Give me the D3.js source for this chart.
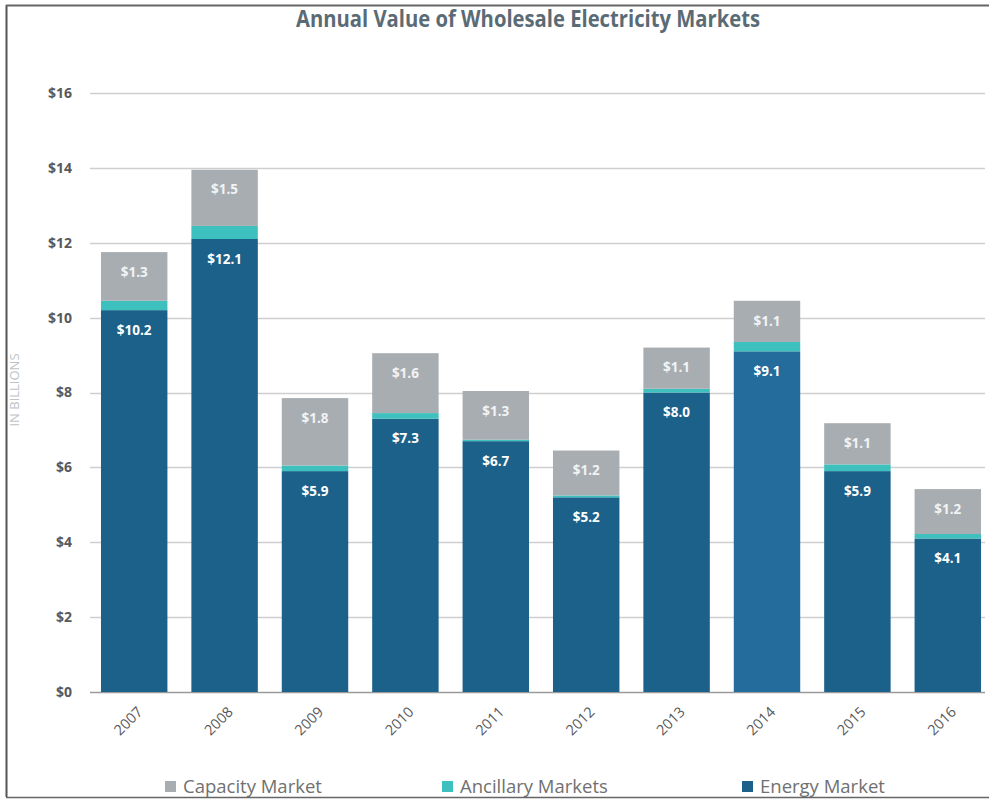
<!DOCTYPE html>
<html>
<head>
<meta charset="utf-8">
<script src="https://cdn.jsdelivr.net/npm/d3@7/dist/d3.min.js"></script>
<style>
  html, body { margin: 0; padding: 0; background: #fff; }
  svg { display: block; font-family: "Open Sans", "Noto Sans", sans-serif; }
</style>
</head>
<body>
<svg id="chart" width="989" height="799"></svg>
<script>
// Annual value of wholesale electricity markets, in billions of dollars
const years = ["2007", "2008", "2009", "2010", "2011", "2012", "2013", "2014", "2015", "2016"];
const energy    = [10.2, 12.1, 5.9, 7.3, 6.7, 5.2, 8.0, 9.1, 5.9, 4.1];
const ancillary = [0.25, 0.35, 0.15, 0.15, 0.04, 0.05, 0.1, 0.25, 0.18, 0.12];
const capacity  = [1.3, 1.5, 1.8, 1.6, 1.3, 1.2, 1.1, 1.1, 1.1, 1.2];
const yTicks = [0, 2, 4, 6, 8, 10, 12, 14, 16];
const seriesNames = ["Capacity Market", "Ancillary Markets", "Energy Market"];
const highlightYear = "2014";

const colors = {
  energy: "#1b6189",
  energyHighlight: "#236c9b",
  ancillary: "#3ec0bf",
  capacity: "#a8adb1"
};

const svg = d3.select("#chart");
const W = 989, H = 799;

// frame
svg.append("line").attr("x1", 6.5).attr("x2", 6.5).attr("y1", 5).attr("y2", 797)
  .attr("stroke", "#555").attr("stroke-width", 2);
svg.append("line").attr("x1", 6).attr("x2", W).attr("y1", 5.5).attr("y2", 5.5)
  .attr("stroke", "#666").attr("stroke-width", 2);

// title
svg.append("text")
  .attr("x", 528).attr("y", 27)
  .attr("text-anchor", "middle")
  .attr("font-size", 24).attr("font-weight", 700)
  .attr("fill", "#5b6b75")
  .attr("textLength", 464).attr("lengthAdjust", "spacingAndGlyphs")
  .text("Annual Value of Wholesale Electricity Markets");

const y = d3.scaleLinear().domain([0, 16]).range([692, 93]);
const x = d3.scaleBand().domain(years).range([89, 993])
  .paddingInner(0.265).paddingOuter(0.1325);

// gridlines
svg.append("g").selectAll("line").data(yTicks).join("line")
  .attr("x1", 90).attr("x2", 985)
  .attr("y1", d => Math.round(y(d)) + 0.5).attr("y2", d => Math.round(y(d)) + 0.5)
  .attr("stroke", d => d === 0 ? "#9a9a9a" : "#cfcfcf")
  .attr("stroke-width", 1.5);

// y tick labels
svg.append("g").selectAll("text").data(yTicks).join("text")
  .attr("x", 72).attr("y", d => y(d))
  .attr("dy", "0.35em")
  .attr("text-anchor", "end")
  .attr("font-size", 14).attr("font-weight", 700)
  .attr("fill", "#58595b")
  .text(d => "$" + d);

// y axis title
svg.append("text")
  .attr("transform", "translate(19,390) rotate(-90)")
  .attr("text-anchor", "middle")
  .attr("font-size", 13)
  .attr("fill", "#bcc3c8")
  .text("IN BILLIONS");

// stacked bars
const rows = years.map((yr, i) => ({
  year: yr, energy: energy[i], ancillary: ancillary[i], capacity: capacity[i]
}));
const keys = ["energy", "ancillary", "capacity"];
const stacked = d3.stack().keys(keys)(rows);

const gBars = svg.append("g");
stacked.forEach(layer => {
  gBars.append("g").selectAll("rect").data(layer).join("rect")
    .attr("x", d => x(d.data.year))
    .attr("width", x.bandwidth())
    .attr("y", d => y(d[1]))
    .attr("height", d => y(d[0]) - y(d[1]))
    .attr("fill", d => layer.key === "energy"
      ? (d.data.year === highlightYear ? colors.energyHighlight : colors.energy)
      : colors[layer.key]);
});

// value labels for energy and capacity segments
["energy", "capacity"].forEach(key => {
  const layer = stacked.find(s => s.key === key);
  gBars.append("g").selectAll("text").data(layer).join("text")
    .attr("x", d => x(d.data.year) + x.bandwidth() / 2)
    .attr("y", d => y(d[1]) + 20)
    .attr("dy", "0.35em")
    .attr("text-anchor", "middle")
    .attr("font-size", 13.5).attr("font-weight", 700)
    .attr("fill", key === "energy" ? "#ffffff" : "#f1f3f4")
    .text(d => "$" + d.data[key].toFixed(1));
});

// x tick labels
svg.append("g").selectAll("text").data(years).join("text")
  .attr("transform", d => `translate(${x(d) + x.bandwidth() / 2 - 6},${721}) rotate(-45)`)
  .attr("text-anchor", "middle")
  .attr("dy", "0.35em")
  .attr("font-size", 14.5)
  .attr("fill", "#58595b")
  .text(d => d);

// legend
const legendX = [165, 442, 742];
const legendColors = [colors.capacity, colors.ancillary, colors.energy];
const lg = svg.append("g");
seriesNames.forEach((name, i) => {
  lg.append("rect")
    .attr("x", legendX[i]).attr("y", 781)
    .attr("width", 11).attr("height", 11)
    .attr("fill", legendColors[i]);
  lg.append("text")
    .attr("x", legendX[i] + 18).attr("y", 793)
    .attr("font-size", 18.5)
    .attr("fill", "#707070")
    .text(name);
});

// bottom edge of the frame
svg.append("line").attr("x1", 6).attr("x2", W).attr("y1", 797.5).attr("y2", 797.5)
  .attr("stroke", "#666").attr("stroke-width", 1.5);
</script>
</body>
</html>
